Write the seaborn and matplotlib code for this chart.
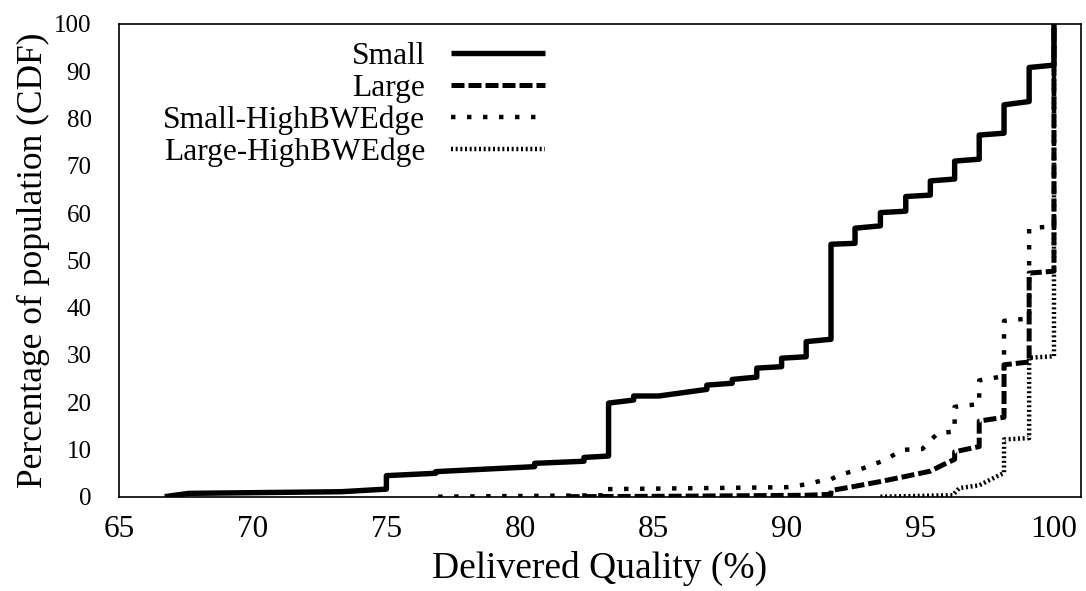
import matplotlib
matplotlib.use("Agg")
import matplotlib.pyplot as plt
import seaborn as sns
import pandas as pd

# CDF curves (x = delivered quality %, y = % of population)
small_x = [66.7, 67.6, 73.3, 75.0, 75.0, 76.85, 76.85, 80.55, 80.55, 82.4, 82.4,
           83.32, 83.32, 84.26, 84.26, 85.2, 87.0, 87.0, 87.95, 87.95, 88.87, 88.87,
           89.8, 89.8, 90.72, 90.72, 91.65, 91.65, 92.55, 92.55, 93.5, 93.5, 94.45,
           94.45, 95.37, 95.37, 96.28, 96.28, 97.2, 97.2, 98.13, 98.13, 99.07, 99.07,
           100.0, 100.0]
small_y = [0.0, 0.7, 1.05, 1.6, 4.45, 4.95, 5.3, 6.35, 7.05, 7.5, 8.3,
           8.6, 19.8, 20.45, 21.3, 21.3, 22.7, 23.6, 24.0, 24.8, 25.3, 27.2,
           27.5, 29.3, 29.6, 32.8, 33.3, 53.4, 53.6, 56.8, 57.3, 60.1, 60.4,
           63.5, 63.8, 66.8, 67.2, 71.0, 71.4, 76.5, 76.9, 82.9, 83.6, 90.8,
           91.3, 100.0]

large_x = [81.75, 86.0, 90.7, 91.65, 91.65, 92.55, 93.5, 94.45, 95.37, 95.83,
           96.28, 96.28, 97.2, 97.2, 98.13, 98.13, 99.07, 99.07, 100.0, 100.0]
large_y = [0.0, 0.1, 0.3, 0.5, 1.3, 2.2, 3.2, 4.3, 5.4, 6.7,
           7.9, 9.5, 10.6, 16.0, 16.8, 27.9, 28.5, 47.3, 47.7, 100.0]

small_hbw_x = [76.94, 83.3, 83.3, 89.97, 90.72, 91.3, 91.65, 91.97, 92.85, 93.7,
               94.3, 95.07, 95.33, 95.64, 96.28, 96.28, 97.2, 97.2, 98.13, 98.13,
               99.07, 99.07, 100.0, 100.0]
small_hbw_y = [0.0, 0.3, 1.6, 2.0, 2.6, 3.4, 3.7, 4.6, 6.0, 7.8,
               9.9, 10.1, 11.6, 13.4, 13.8, 19.0, 19.6, 24.6, 25.5, 37.2,
               37.7, 56.8, 57.2, 100.0]

large_hbw_x = [93.5, 96.2, 96.45, 97.2, 97.9, 98.13, 98.13, 99.07, 99.07, 100.0, 100.0]
large_hbw_y = [0.0, 0.3, 1.8, 2.4, 4.4, 5.0, 12.1, 12.4, 29.4, 29.7, 100.0]

series_names = ["Small", "Large", "Small-HighBWEdge", "Large-HighBWEdge"]
x_ticks = [65, 70, 75, 80, 85, 90, 95, 100]
y_ticks = [0, 10, 20, 30, 40, 50, 60, 70, 80, 90, 100]

frames = []
for name, xs, ys in zip(series_names,
                        [small_x, large_x, small_hbw_x, large_hbw_x],
                        [small_y, large_y, small_hbw_y, large_hbw_y]):
    frames.append(pd.DataFrame({"quality": xs, "cdf": ys, "series": name}))
df = pd.concat(frames, ignore_index=True)

sns.set_theme(style="white")
plt.rcParams["font.family"] = ["Liberation Serif", "DejaVu Serif"]
plt.rcParams["text.color"] = "black"

# line looks (gnuplot-like black dash patterns)
line_styles = {
    "Small": dict(linestyle="-", linewidth=3.9),
    "Large": dict(linestyle=(0, (2.6, 0.8)), linewidth=3.6),
    "Small-HighBWEdge": dict(linestyle=(0, (1.0, 2.6)), linewidth=3.2),
    "Large-HighBWEdge": dict(linestyle=(0, (0.45, 0.6)), linewidth=3.2),
}

fig = plt.figure(figsize=(10.86, 5.91), dpi=100)
ax = fig.add_axes([0.1099, 0.1596, 0.8852, 0.7998])

for name in series_names:
    sub = df[df["series"] == name]
    sns.lineplot(data=sub, x="quality", y="cdf", sort=False, estimator=None,
                 color="black", label=name, ax=ax, solid_capstyle="butt",
                 **line_styles[name])

ax.set_xlim(65, 101)
ax.set_ylim(0, 100)
ax.set_xticks(x_ticks)
ax.set_yticks(y_ticks)
ax.tick_params(axis="both", direction="in", length=13.5, width=0.8,
               colors="black", top=False, right=False)
ax.tick_params(axis="x", pad=13, labelsize=22.5)
ax.tick_params(axis="y", pad=20, labelsize=18)
for sp in ax.spines.values():
    sp.set_color("black")
    sp.set_linewidth(1.2)

ax.set_xlabel("Delivered Quality (%)", fontsize=27, color="black", labelpad=5)
ax.set_ylabel("Percentage of population (CDF)", fontsize=25.5, color="black", labelpad=3)

leg = ax.legend(loc="upper right", bbox_to_anchor=(0.443, 0.962), frameon=False,
                markerfirst=False, fontsize=22.7, handlelength=3.0, handletextpad=0.8,
                labelspacing=0.08, borderpad=0, borderaxespad=0)
for t in leg.get_texts():
    t.set_color("black")

fig.savefig("out.png", dpi=100)
